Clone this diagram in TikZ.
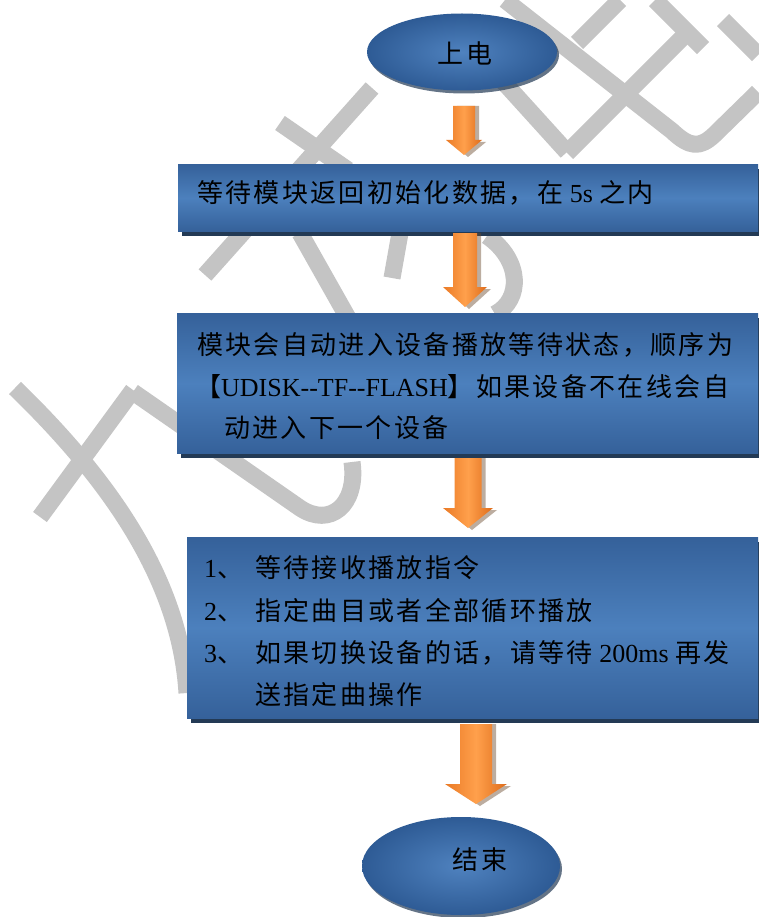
\documentclass[tikz,border=0pt]{standalone}
\usepackage{fontspec}
\setmainfont{Liberation Serif}
\newfontfamily\cjkf[Scale=1.0,LetterSpace=9]{Noto Sans CJK SC}
\usetikzlibrary{calc,shapes.geometric,shadows}
\newcommand\zh[1]{{\cjkf #1}}
\definecolor{wm}{HTML}{C4C4C4}
\definecolor{boxdark}{HTML}{35619A}
\definecolor{boxlight}{HTML}{4C80BD}
\definecolor{boxshadow}{HTML}{233A55}
\definecolor{ellout}{HTML}{2E5B95}
\definecolor{ellin}{HTML}{4F82BF}
\definecolor{orL}{HTML}{EA7A26}
\definecolor{orM}{HTML}{FFA04C}
\definecolor{orR}{HTML}{DE6C1A}
\definecolor{orshadow}{HTML}{6B4A2E}
% block arrow: #1 top coordinate, #2 tip coordinate, #3 half shaft, #4 half head, #5 head length
\newcommand\blkarrow[5]{%
  \fill[orshadow,opacity=.45] let \p1=(#1), \p2=(#2) in
    (\x1-#3pt+4pt,\y1) -- (\x1+#3pt+4pt,\y1) -- (\x1+#3pt+4pt,\y2+#5pt-2pt)
    -- (\x1+#4pt+4pt,\y2+#5pt-2pt) -- (\x2+4pt,\y2-2pt) -- (\x1-#4pt+4pt,\y2+#5pt-2pt)
    -- (\x1-#3pt+4pt,\y2+#5pt-2pt) -- cycle;
  \shade[left color=orL,right color=orR,middle color=orM] let \p1=(#1), \p2=(#2) in
    (\x1-#3pt,\y1) -- (\x1+#3pt,\y1) -- (\x1+#3pt,\y2+#5pt)
    -- (\x1+#4pt,\y2+#5pt) -- (\x2,\y2) -- (\x1-#4pt,\y2+#5pt)
    -- (\x1-#3pt,\y2+#5pt) -- cycle;
}
\tikzset{
  wmline/.style={draw=wm,line width=17pt,line cap=butt,line join=round},
  flowbox/.style={rectangle,anchor=north west,inner sep=0,
    top color=boxdark,bottom color=boxdark,middle color=boxlight,
    drop shadow={shadow xshift=4pt,shadow yshift=-5pt,fill=boxshadow,opacity=1}},
  terminal/.style={ellipse,inner sep=0,inner color=ellin,outer color=ellout,
    drop shadow={shadow xshift=2pt,shadow yshift=-3pt,fill=boxshadow,opacity=.7}},
  txt/.style={anchor=base west,inner sep=0,font=\fontsize{26}{30}\selectfont},
  ctxt/.style={anchor=center,inner sep=0,font=\fontsize{26}{30}\selectfont}
}
\begin{document}
\begin{tikzpicture}[x=1pt,y=-1pt]
\useasboundingbox[fill=white] (0,0) rectangle (758,917);
% watermark (top right)
\draw[wmline] (505,0) -- (672,131) .. controls (690,148) and (700,148) .. (714,135) -- (758,92);
\draw[wmline] (655,0) -- (703,48);
\draw[wmline] (620,0) -- (577,43);
\draw[wmline] (683,37) -- (567,153);
\draw[wmline] (470,45) -- (567,152);
\draw[wmline] (723,20) -- (758,55);
% watermark (middle)
\draw[wmline] (280,123) -- (348,170);
\draw[wmline] (372,88) -- (205,275);
\draw[wmline] (300,233) -- (348,318);
\draw[wmline] (400,233) -- (392,278);
\draw[wmline] (487,236) .. controls (522,260) and (522,300) .. (495,314);
% watermark (lower left)
\draw[wmline] (15,388) .. controls (110,480) and (180,580) .. (187,693);
\draw[wmline] (133,390) -- (40,517);
\draw[wmline] (133,392) -- (300,508) .. controls (330,528) and (358,505) .. (352,462);
% terminals
\node[terminal,minimum width=190,minimum height=77] (e1) at (462,52) {};
\node[ctxt] (t0) at (465,53) {\zh{上电}};
\node[terminal,minimum width=198,minimum height=98] (e2) at (461,866) {};
\node[ctxt] (t9) at (480,860) {\zh{结束}};
% boxes
\node[flowbox,minimum width=580,minimum height=67] (b1) at (178,164) {};
\node[flowbox,minimum width=581,minimum height=140] (b2) at (177,313) {};
\node[flowbox,minimum width=571,minimum height=181] (b3) at (187,537) {};
% texts
\node[txt] (t1) at (197,203) {\zh{等待模块返回初始化数据，在} 5s \zh{之内}};
\node[txt] (t2a) at (197,354) {\zh{模块会自动进入设备播放等待状态，顺序为}};
\node[txt] (t2b) at (195,396) {\zh{【}UDISK-\kern0pt-TF-\kern0pt-FLASH\zh{】如果设备不在线会自}};
\node[txt] (t2c) at (224,437) {\zh{动进入下一个设备}};
\node[txt] (n1) at (204,577) {1\zh{、}};
\node[txt] (s1) at (255,577) {\zh{等待接收播放指令}};
\node[txt] (n2) at (204,620) {2\zh{、}};
\node[txt] (s2) at (255,620) {\zh{指定曲目或者全部循环播放}};
\node[txt] (n3) at (204,662) {3\zh{、}};
\node[txt] (s3) at (255,662) {\zh{如果切换设备的话，请等待} 200ms \zh{再发}};
\node[txt] (s4) at (255,704) {\zh{送指定曲操作}};
% arrows
\coordinate (a1t) at (464,106); \coordinate (a1e) at (464,155);
\coordinate (a2t) at (465,233); \coordinate (a2e) at (465,307);
\coordinate (a3t) at (468,458); \coordinate (a3e) at (468,528);
\coordinate (a4t) at (476,724); \coordinate (a4e) at (476,804);
\blkarrow{a1t}{a1e}{11}{18}{15}
\blkarrow{a2t}{a2e}{12}{22}{20}
\blkarrow{a3t}{a3e}{13.5}{25}{20}
\blkarrow{a4t}{a4e}{16}{31}{20}
\end{tikzpicture}
\end{document}
